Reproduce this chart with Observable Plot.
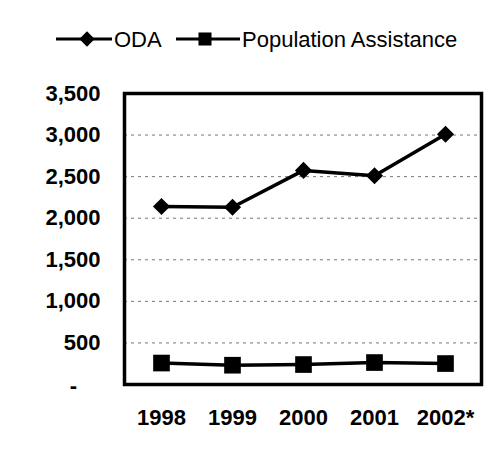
<!DOCTYPE html>
<html>
<head>
<meta charset="utf-8">
<script src="https://cdn.jsdelivr.net/npm/d3@7"></script>
<script src="https://cdn.jsdelivr.net/npm/@observablehq/plot@0.6"></script>
<style>
  html, body { margin: 0; padding: 0; background: #fff; }
  body { width: 490px; height: 453px; overflow: hidden; font-family: "Liberation Sans", Arial, sans-serif; }
  #legend { position: relative; height: 70px; }
  #legend svg { position: absolute; left: 0; top: 0; }
</style>
</head>
<body>
<div id="legend"></div>
<div id="chart"></div>
<script>
const years = ["1998", "1999", "2000", "2001", "2002*"];
const odaValues = [2140, 2132, 2575, 2510, 3010];
const popValues = [258, 232, 240, 264, 252];
const yTicks = [0, 500, 1000, 1500, 2000, 2500, 3000, 3500];
const seriesNames = ["ODA", "Population Assistance"];

const oda = years.map((y, i) => ({year: y, value: odaValues[i]}));
const pop = years.map((y, i) => ({year: y, value: popValues[i]}));

const fmt = d3.format(",");

const plot = Plot.plot({
  width: 490,
  height: 383,
  marginLeft: 124,
  marginRight: 9,
  marginTop: 23,
  marginBottom: 69,
  style: {fontFamily: "'Liberation Sans', Arial, sans-serif", fontSize: "22px", color: "#000", background: "#fff"},
  x: {type: "point", domain: years, padding: 0.5, label: null},
  y: {domain: [0, 3500], label: null},
  marks: [
    Plot.gridY(yTicks.filter(d => d > 0 && d < 3500), {stroke: "#777", strokeOpacity: 1, strokeWidth: 1, strokeDasharray: "3,4"}),
    Plot.axisY(yTicks.filter(d => d > 0), {tickSize: 5, tickPadding: 19, tickFormat: fmt, fontSize: 22, fontWeight: "bold", fill: "#000", stroke: null, label: null}),
    Plot.tickY([0], {y: d => d, x1: () => null}),
    Plot.text([0], {y: d => d, frameAnchor: "left", text: () => "-", dx: -51, dy: 1, textAnchor: "middle", fontSize: 22, fontWeight: "bold", fill: "#000"}),
    Plot.axisX({tickSize: 0, tickPadding: 25, fontSize: 22, fontWeight: "bold", fill: "#000", label: null}),
    Plot.frame({stroke: "#000", strokeWidth: 3.5}),
    Plot.line(oda, {x: "year", y: "value", stroke: "#000", strokeWidth: 3.5}),
    Plot.dot(oda, {x: "year", y: "value", symbol: "diamond2", r: 7.7, fill: "#000", stroke: null}),
    Plot.line(pop, {x: "year", y: "value", stroke: "#000", strokeWidth: 3.5}),
    Plot.dot(pop, {x: "year", y: "value", symbol: "square", r: 9.4, fill: "#000", stroke: null})
  ]
});
document.getElementById("chart").appendChild(plot);

// Legend
const lg = d3.select("#legend").append("svg").attr("width", 490).attr("height", 70);
const cy = 39;
const items = [
  {name: seriesNames[0], x1: 56, x2: 112, cx: 87, sym: d3.symbolDiamond2, size: 150, tx: 114},
  {name: seriesNames[1], x1: 176, x2: 240, cx: 205, sym: d3.symbolSquare, size: 170, tx: 242}
];
for (const it of items) {
  lg.append("line").attr("x1", it.x1).attr("x2", it.x2).attr("y1", cy).attr("y2", cy)
    .attr("stroke", "#000").attr("stroke-width", 3);
  lg.append("path").attr("d", d3.symbol(it.sym, it.size)()).attr("transform", `translate(${it.cx},${cy})`).attr("fill", "#000");
  lg.append("text").attr("x", it.tx).attr("y", cy).attr("dy", "0.36em").attr("font-size", 22)
    .attr("font-family", "'Liberation Sans', Arial, sans-serif").attr("fill", "#000").text(it.name);
}
</script>
</body>
</html>
